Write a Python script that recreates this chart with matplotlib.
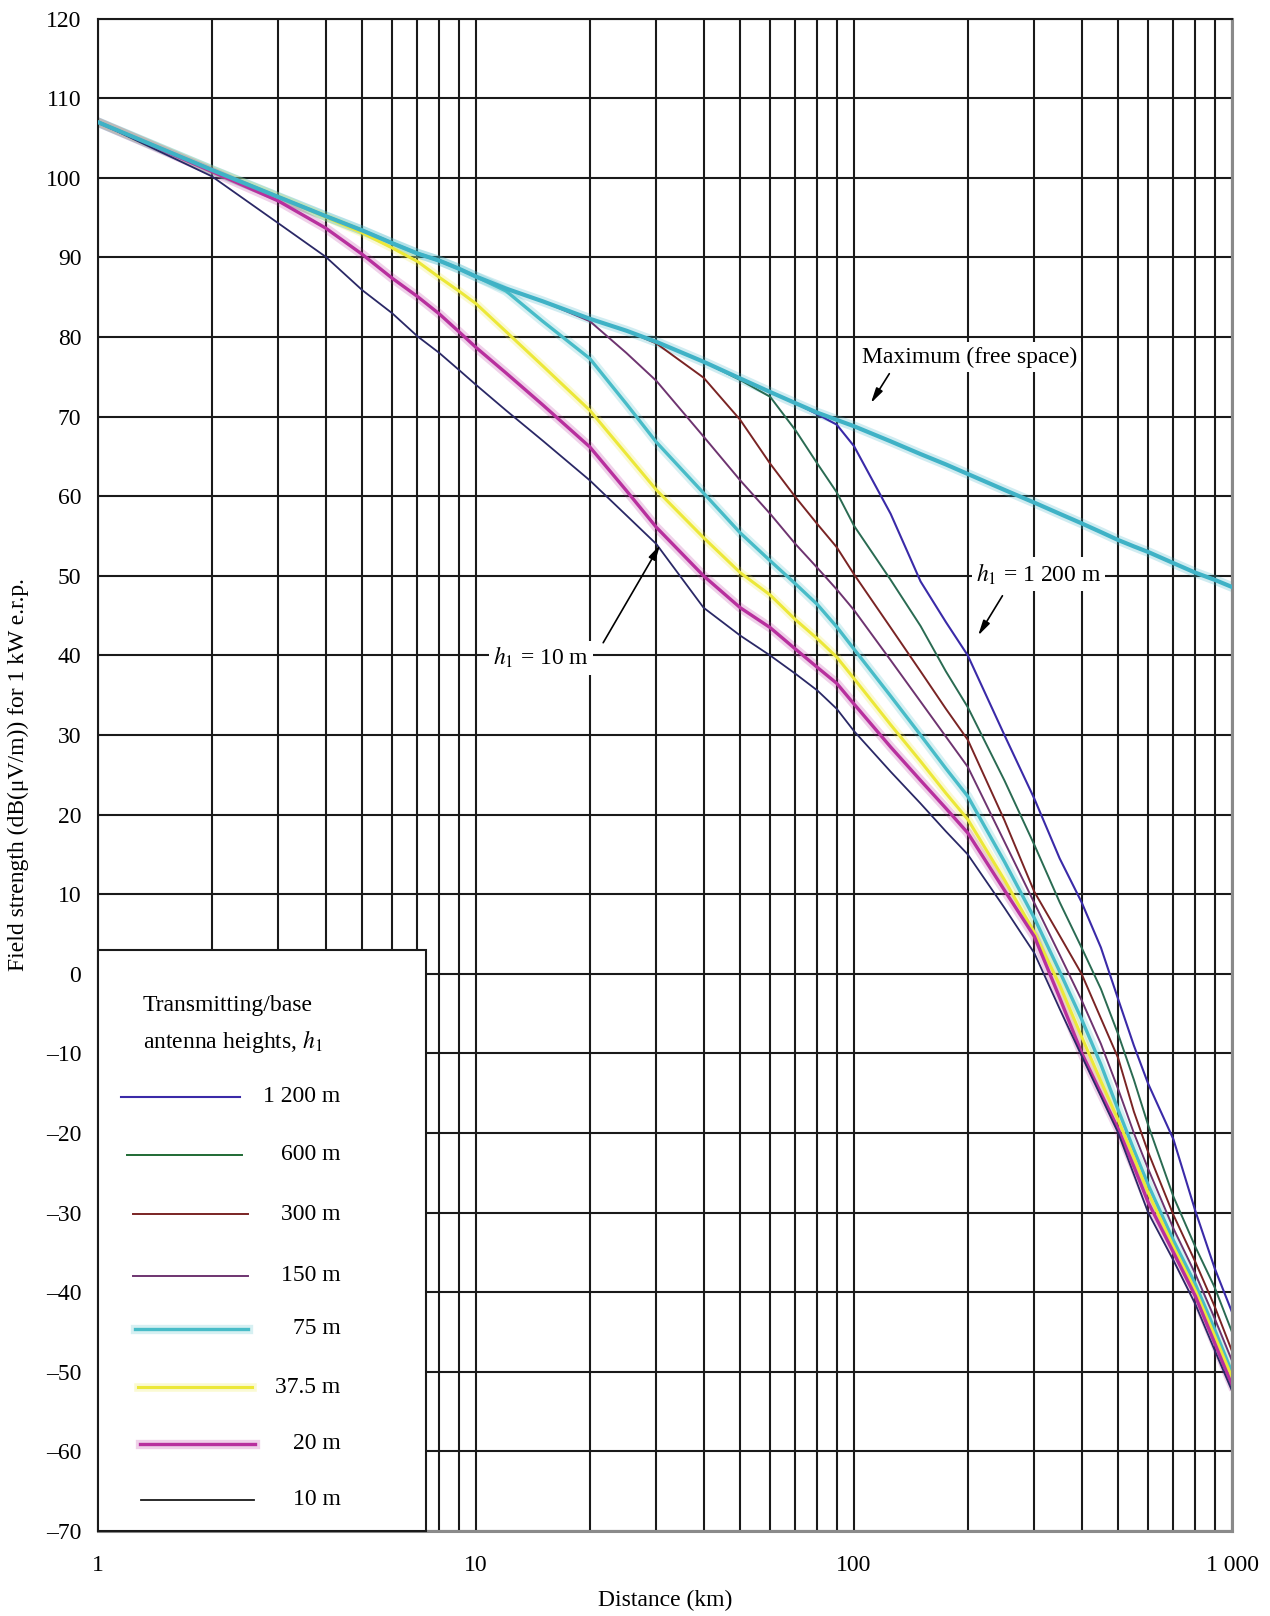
import numpy as np
import matplotlib
matplotlib.use("Agg")
import matplotlib.pyplot as plt
from matplotlib.ticker import LogLocator, NullFormatter, FixedLocator
from matplotlib.patches import Rectangle

plt.rcParams['font.family'] = ['Liberation Serif', 'DejaVu Serif']
plt.rcParams['mathtext.fontset'] = 'stix'

# distance grid (km) shared by every curve
dist = [1, 2, 3, 4, 5, 6, 7, 8, 9, 10, 12, 15, 20, 25, 30, 40, 50, 60, 70, 80, 90,
        100, 125, 150, 175, 200, 250, 300, 350, 400, 450, 500, 550, 600, 700, 800, 900, 1000]

# field strength dB(uV/m) for 1 kW e.r.p.
free_space = [107.0, 101.0, 97.6, 95.2, 93.4, 91.8, 90.5, 89.6, 88.6, 87.6, 86.1, 84.5, 82.3, 80.8, 79.4,
              76.9, 74.8, 73.1, 71.7, 70.5, 69.6, 68.8, 66.9, 65.3, 64.0, 62.8, 60.8, 59.2, 57.8, 56.6,
              55.5, 54.5, 53.7, 53.0, 51.6, 50.4, 49.5, 48.6]
h1200 = [107.0, 101.0, 97.6, 95.2, 93.4, 91.8, 90.5, 89.6, 88.6, 87.6, 86.1, 84.5, 82.3, 80.8, 79.4,
         76.9, 74.8, 73.1, 71.7, 70.3, 69.0, 66.3, 57.8, 49.3, 44.2, 40.0, 30.0, 22.0, 14.5, 9.0,
         3.3, -3.2, -9.0, -13.8, -20.8, -29.8, -37.0, -42.5]
h600 = [107.0, 101.0, 97.6, 95.2, 93.4, 91.8, 90.5, 89.6, 88.6, 87.6, 86.1, 84.5, 82.3, 80.8, 79.4,
        76.9, 74.6, 72.5, 68.3, 64.1, 60.5, 56.3, 49.5, 43.7, 38.0, 33.5, 24.3, 16.2, 9.0, 3.3,
        -1.9, -7.6, -13.3, -19.0, -28.0, -34.3, -39.4, -45.0]
h300 = [107.0, 101.0, 97.6, 95.2, 93.4, 91.8, 90.5, 89.6, 88.6, 87.6, 86.1, 84.5, 82.3, 80.8, 79.2,
        74.9, 69.6, 64.1, 59.9, 56.5, 53.6, 50.2, 43.5, 38.0, 33.3, 29.4, 19.3, 10.3, 4.8, 0.0,
        -5.6, -10.6, -17.3, -22.4, -30.3, -36.2, -41.8, -47.4]
h150 = [107.0, 101.0, 97.6, 95.2, 93.4, 91.8, 90.5, 89.6, 88.6, 87.6, 86.1, 84.5, 82.0, 78.0, 74.5,
        67.5, 62.0, 57.8, 54.0, 51.0, 48.3, 45.7, 39.4, 34.2, 29.8, 26.0, 16.6, 8.9, 2.4, -3.3,
        -8.8, -14.5, -20.0, -24.5, -32.0, -37.7, -43.3, -48.6]
h75 = [107.0, 101.0, 97.6, 95.2, 93.4, 91.8, 90.5, 89.6, 88.6, 87.6, 85.8, 82.0, 77.3, 71.6, 66.8,
       60.4, 55.4, 51.9, 49.0, 46.4, 43.6, 40.8, 34.9, 30.0, 25.8, 22.3, 14.1, 7.0, 0.3, -5.7,
       -11.4, -17.1, -22.1, -26.5, -33.5, -39.0, -44.7, -50.1]
h37 = [107.0, 101.0, 97.6, 95.1, 93.1, 91.2, 89.5, 87.5, 85.8, 84.2, 80.7, 76.4, 70.8, 65.3, 60.8,
       54.8, 50.4, 47.6, 44.5, 42.1, 39.8, 37.1, 31.3, 26.7, 22.7, 19.4, 11.8, 5.2, -1.4, -7.9,
       -13.5, -18.4, -23.1, -27.5, -34.3, -39.8, -45.5, -50.7]
h20 = [107.0, 100.8, 97.1, 93.7, 90.4, 87.4, 85.1, 82.9, 80.7, 78.7, 75.5, 71.5, 66.2, 60.7, 56.1,
       50.0, 46.0, 43.5, 40.8, 38.5, 36.5, 33.9, 28.5, 24.3, 20.8, 17.7, 10.5, 4.7, -3.0, -9.9,
       -15.0, -19.5, -24.2, -28.7, -35.0, -40.5, -46.4, -51.7]
h10 = [107.0, 100.2, 94.3, 90.1, 85.9, 83.0, 80.1, 78.0, 75.9, 74.0, 70.8, 67.0, 62.0, 57.6, 54.0,
       46.0, 42.5, 40.0, 37.7, 35.6, 33.3, 30.5, 25.4, 21.4, 17.9, 15.0, 8.3, 2.6, -4.4, -10.3,
       -15.4, -20.0, -25.2, -30.0, -36.0, -41.5, -47.3, -52.4]

heights = ['1 200 m', '600 m', '300 m', '150 m', '75 m', '37.5 m', '20 m', '10 m']
series = [h1200, h600, h300, h150, h75, h37, h20, h10]
colors = ['#3a2aa8', '#2a6b52', '#7a2424', '#6e3470', '#48bcc8', '#ece838', '#b8309e', '#2a2866']
widths = [1.5, 1.4, 1.4, 1.4, 2.4, 2.2, 2.4, 1.3]
halo = [False, False, False, False, True, True, True, False]

xticks = [1, 10, 100, 1000]
xtick_labels = ['1', '10', '100', '1 000']
yticks = list(range(-70, 121, 10))
ytick_labels = [str(v) if v >= 0 else '\u2013' + str(-v) for v in yticks]

fig = plt.figure(figsize=(12.7, 16.16), dpi=100)
ax = fig.add_axes([98 / 1270, 1 - 1531 / 1616, 1134 / 1270, 1512.3 / 1616])
ax.set_xscale('log')
ax.set_xlim(1, 1000)
ax.set_ylim(-70, 120)

ax.xaxis.set_major_locator(FixedLocator(xticks))
ax.set_xticklabels(xtick_labels)
ax.xaxis.set_minor_locator(LogLocator(base=10, subs=np.arange(2, 10), numticks=20))
ax.xaxis.set_minor_formatter(NullFormatter())
ax.set_yticks(yticks)
ax.set_yticklabels(ytick_labels)
ax.tick_params(which='both', length=0, labelsize=17)
ax.tick_params(axis='x', pad=17)
ax.tick_params(axis='y', pad=12)

ax.set_axisbelow(True)
ax.grid(which='both', color='#1a1a1a', lw=1.5)
for side in ['left', 'top']:
    ax.spines[side].set_color('#1a1a1a')
    ax.spines[side].set_linewidth(1.5)
for side in ['right', 'bottom']:
    ax.spines[side].set_color('#8a8a8a')
    ax.spines[side].set_linewidth(2.2)

# free-space maximum
ax.plot(dist, free_space, color='#45b6c8', lw=7, alpha=0.25, solid_capstyle='round', zorder=2)
ax.plot(dist, free_space, color='#3fb2c6', lw=3.0, zorder=2.6)

for vals, c, w, h in zip(series, colors, widths, halo):
    if h:
        ax.plot(dist, vals, color=c, lw=w * 2.8, alpha=0.22, zorder=2)
    ax.plot(dist, vals, color=c, lw=w, zorder=2.5)

# annotations
box = dict(facecolor='white', edgecolor='none', pad=3)
arrow = dict(arrowstyle='-|>,head_width=0.22,head_length=0.9', color='black', lw=1.2,
             shrinkA=0, shrinkB=0)
ax.text(104.9, 77.5, 'Maximum (free space)', fontsize=17, ha='left', va='center', bbox=box, zorder=4)
ax.annotate('', xy=(110.8, 71.7), xytext=(124, 75.4), arrowprops=arrow, zorder=4)
ax.text(210, 50.2, '$h_1$ = 1 200 m', fontsize=17, ha='left', va='center', bbox=box, zorder=4)
ax.annotate('', xy=(213, 42.5), xytext=(247, 47.5), arrowprops=arrow, zorder=4)
ax.text(11.1, 39.7, '$h_1$ = 10 m', fontsize=17, ha='left', va='center', bbox=box, zorder=4)
ax.annotate('', xy=(30.7, 53.9), xytext=(21.7, 41.6), arrowprops=arrow, zorder=4)

# legend panel
ax.add_patch(Rectangle((0, 0), 0.289, 0.384, transform=ax.transAxes, facecolor='white',
                       edgecolor='#1a1a1a', lw=1.5, zorder=3.5, clip_on=False))
ax.text(0.0394, 0.3478, 'Transmitting/base', transform=ax.transAxes, fontsize=17,
        ha='left', va='center', zorder=4)
ax.text(0.0394, 0.3237, 'antenna heights, $h_1$', transform=ax.transAxes, fontsize=17,
        ha='left', va='center', zorder=4)
row_y = [0.287, 0.2489, 0.2096, 0.1689, 0.1336, 0.0952, 0.0577, 0.0205]
seg_x = [(0.020, 0.1252), (0.0253, 0.1267), (0.0311, 0.1325), (0.0311, 0.1325),
         (0.0326, 0.1325), (0.0355, 0.1355), (0.037, 0.1384), (0.0377, 0.1376)]
leg_colors = ['#3a2aa8', '#1f6a34', '#7a2424', '#6e3470', '#48bcc8', '#ece838', '#b8309e', '#1a1a1a']
for lab, c, w, h, y, (x0, x1) in zip(heights, leg_colors, widths, halo, row_y, seg_x):
    if h:
        ax.plot([x0, x1], [y, y], transform=ax.transAxes, color=c, lw=w * 2.8, alpha=0.22, zorder=4)
    ax.plot([x0, x1], [y, y], transform=ax.transAxes, color=c, lw=w, zorder=4.1)
    ax.text(0.214, y, lab, transform=ax.transAxes, fontsize=17, ha='right', va='center', zorder=4)

fig.text(18.5 / 1270, 1 - 775 / 1616, 'Field strength (dB(\u03bcV/m)) for 1 kW e.r.p.',
         rotation=90, fontsize=17, ha='center', va='center')
fig.text(665 / 1270, 1 - 1600 / 1616, 'Distance (km)', fontsize=17, ha='center', va='center')

fig.savefig('out.png', dpi=100, facecolor='white')
